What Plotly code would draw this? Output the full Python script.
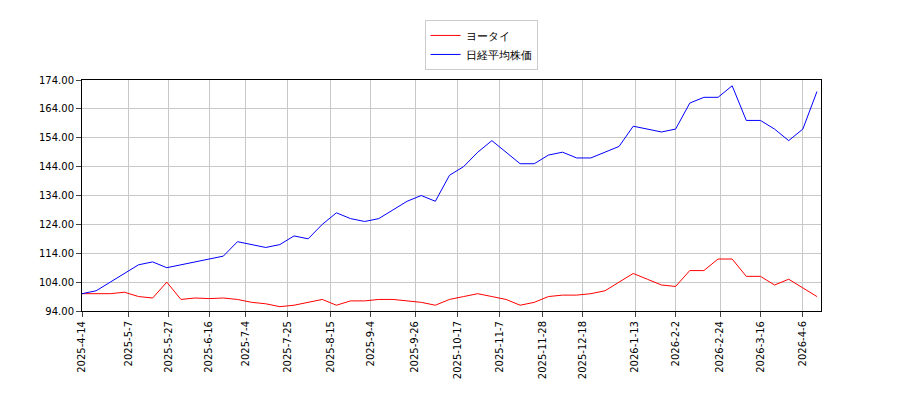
import pandas as pd
import plotly.graph_objects as go

week_start = "2025-04-14"
yotai = [100, 100, 100, 100.5, 99, 98.5, 104, 98, 98.5, 98.3, 98.5, 98, 97, 96.5, 95.5, 96,
         97, 98, 96, 97.5, 97.5, 98, 98, 97.5, 97, 96, 98, 99, 100, 99, 98, 96, 97, 99,
         99.5, 99.5, 100, 101, 104, 107, 105, 103, 102.5, 108, 108, 112, 112, 106, 106,
         103, 105, 102, 99]
nikkei = [100, 101, 104, 107, 110, 111, 109, 110, 111, 112, 113, 118, 117, 116, 117, 120,
          119, 124, 128, 126, 125, 126, 129, 132, 134, 132, 141, 144, 149, 153, 149, 145,
          145, 148, 149, 147, 147, 149, 151, 158, 157, 156, 157, 166, 168, 168, 172, 160,
          160, 157, 153, 157, 170]
tick_labels = ["2025-4-14", "2025-5-7", "2025-5-27", "2025-6-16", "2025-7-4", "2025-7-25",
               "2025-8-15", "2025-9-4", "2025-9-26", "2025-10-17", "2025-11-7", "2025-11-28",
               "2025-12-18", "2026-1-13", "2026-2-2", "2026-2-24", "2026-3-16", "2026-4-6"]
y_ticks = [94, 104, 114, 124, 134, 144, 154, 164, 174]

dates = pd.date_range(week_start, periods=len(nikkei), freq="7D")
tick_dates = pd.to_datetime(tick_labels)

fig = go.Figure()
fig.add_trace(go.Scatter(x=dates, y=yotai, mode="lines", name="ヨータイ",
                         line=dict(color="red", width=1)))
fig.add_trace(go.Scatter(x=dates, y=nikkei, mode="lines", name="日経平均株価",
                         line=dict(color="blue", width=1)))

fig.update_layout(
    width=900, height=400,
    paper_bgcolor="white", plot_bgcolor="white",
    font=dict(family="DejaVu Sans", size=10, color="black"),
    margin=dict(l=74, r=87, t=62, b=97),
    showlegend=True,
    legend=dict(x=0.54, y=1.26, xanchor="center", yanchor="top",
                bordercolor="#ccc", borderwidth=1, font=dict(size=11)),
    xaxis=dict(range=[dates[0], pd.Timestamp("2026-04-15")], tickvals=tick_dates,
               ticktext=tick_labels, tickangle=-90, showgrid=True, gridcolor="#c8c8c8",
               showline=True, linecolor="black", mirror=True, ticks="outside"),
    yaxis=dict(range=[94, 174], tickvals=y_ticks, ticktext=[f"{v:.2f}" for v in y_ticks],
               showgrid=True, gridcolor="#c8c8c8", showline=True, linecolor="black",
               mirror=True, ticks="outside"),
)

fig.write_html("out.html")
